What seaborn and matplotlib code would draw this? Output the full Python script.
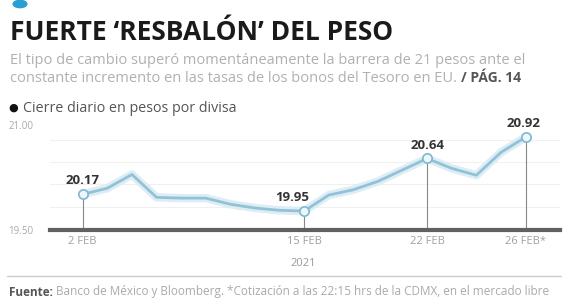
import pandas as pd
import matplotlib.pyplot as plt
import seaborn as sns

# Daily close, business days 2-26 Feb 2021 (pesos per dollar)
dates = ["2 FEB", "3 FEB", "4 FEB", "5 FEB", "8 FEB", "9 FEB", "10 FEB", "11 FEB",
         "12 FEB", "15 FEB", "16 FEB", "17 FEB", "18 FEB", "19 FEB", "22 FEB",
         "23 FEB", "24 FEB", "25 FEB", "26 FEB"]
closes = [20.17, 20.25, 20.43, 20.13, 20.12, 20.12, 20.04, 19.99, 19.96, 19.95,
          20.16, 20.23, 20.34, 20.49, 20.64, 20.51, 20.42, 20.72, 20.92]

marked = ["2 FEB", "15 FEB", "22 FEB", "26 FEB"]
tick_labels = ["2 FEB", "15 FEB", "22 FEB", "26 FEB*"]
y_labels = ["19.50", "21.00"]

df = pd.DataFrame({"fecha": dates, "cierre": closes})
df["idx"] = range(len(df))
pts = df[df["fecha"].isin(marked)]

sns.set_style("white")
plt.rcParams["font.family"] = ["Open Sans", "DejaVu Sans"]

fig = plt.figure(figsize=(5.72, 3.04), dpi=100)
ax = fig.add_axes([0.087, 0.243, 0.892, 0.346])

ybot, ytop = 19.70, 21.08
ax.set_ylim(ybot, ytop)
ax.set_xlim(-1.34, 19.4)

# faint grid
for g in [20.0, 20.3, 20.6, 20.88]:
    ax.axhline(g, color="#f0f0f0", lw=0.8, zorder=0)

ax.vlines(pts["idx"], ybot, pts["cierre"], color="#888888", lw=0.8, zorder=1)
sns.lineplot(data=df, x="idx", y="cierre", ax=ax, color="#dcedf5", lw=6, zorder=2)
sns.lineplot(data=df, x="idx", y="cierre", ax=ax, color="#93c2d6", lw=2, zorder=3)
sns.scatterplot(data=pts, x="idx", y="cierre", ax=ax, s=45, facecolor="#eef7fb",
                edgecolor="#7fb8d0", linewidth=1.2, zorder=4)

offsets = {"2 FEB": (0, 0.09), "15 FEB": (-0.5, 0.09), "22 FEB": (0, 0.09), "26 FEB": (-0.1, 0.09)}
for _, r in pts.iterrows():
    dx, dy = offsets[r["fecha"]]
    ax.text(r["idx"] + dx, r["cierre"] + dy, f"{r['cierre']:.2f}", ha="center", va="bottom",
            fontsize=9.5, fontweight="bold", color="#333333")

ax.set_xticks(pts["idx"])
ax.set_xticklabels(tick_labels, fontsize=8, color="#a0a0a0")
ax.set_yticks([ybot, ytop])
ax.set_yticklabels(y_labels, fontsize=7, color="#aaaaaa")
ax.tick_params(axis="y", length=0, pad=12)
ax.tick_params(axis="x", length=0, pad=4)
ax.set_xlabel("")
ax.set_ylabel("")
for s in ["top", "right", "left"]:
    ax.spines[s].set_visible(False)
ax.spines["bottom"].set_color("#606060")
ax.spines["bottom"].set_linewidth(3)
ax.set_facecolor("none")

# header
fig.patches.append(plt.Circle((20 / 572, 1 - 4 / 304), 0.012, transform=fig.transFigure,
                              color="#2a9fd6", clip_on=False))
fig.text(0.018, 1 - 33 / 304, "FUERTE ‘RESBALÓN’ DEL PESO", fontsize=19, fontweight="bold",
         color="#1a1a1a", va="center")
fig.text(0.018, 1 - 61 / 304,
         "El tipo de cambio superó momentáneamente la barrera de 21 pesos ante el",
         fontsize=10.5, color="#b0b0b0", va="center")
line2 = fig.text(0.018, 1 - 78 / 304,
                 "constante incremento en las tasas de los bonos del Tesoro en EU. ",
                 fontsize=10.5, color="#b0b0b0", va="center")
fig.canvas.draw()
bb = line2.get_window_extent().transformed(fig.transFigure.inverted())
fig.text(bb.x1, 1 - 78 / 304, "/ PÁG. 14", fontsize=10, fontweight="bold",
         color="#555555", va="center")
fig.text(0.014, 1 - 108 / 304, "●", fontsize=8, color="#111111", va="center")
fig.text(0.04, 1 - 108 / 304, "Cierre diario en pesos por divisa", fontsize=10.3,
         color="#555555", va="center")

# footer
fig.text(0.53, 1 - 264 / 304, "2021", fontsize=8, color="#999999", ha="center", va="center")
fig.add_artist(plt.Line2D([0.012, 0.98], [1 - 276 / 304] * 2, color="#cccccc", lw=1))
foot = fig.text(0.016, 1 - 292 / 304, "Fuente: ", fontsize=8.5, fontweight="bold",
                color="#555555", va="center")
fig.canvas.draw()
fb = foot.get_window_extent().transformed(fig.transFigure.inverted())
fig.text(fb.x1, 1 - 292 / 304,
         "Banco de México y Bloomberg. *Cotización a las 22:15 hrs de la CDMX, en el mercado libre",
         fontsize=8.5, color="#aaaaaa", va="center")

fig.savefig("out.png", dpi=100)
